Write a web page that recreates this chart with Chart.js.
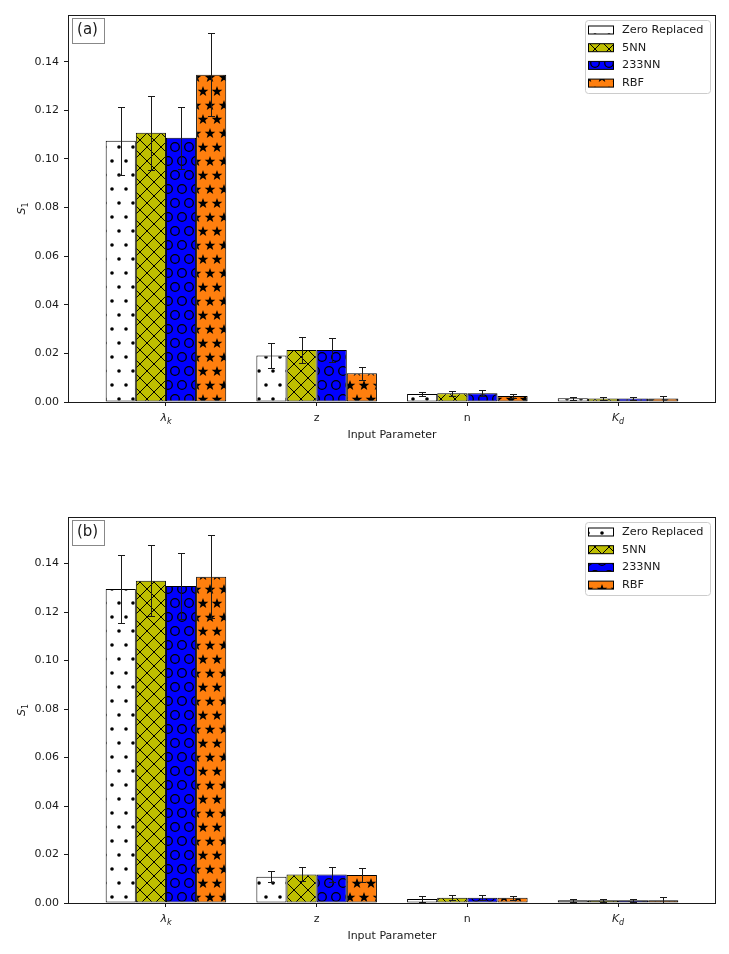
<!DOCTYPE html>
<html>
<head>
<meta charset="utf-8">
<script src="https://cdn.jsdelivr.net/npm/chart.js@4.4.1/dist/chart.umd.min.js"></script>
<style>
html, body { margin: 0; padding: 0; background: #fff; }
#wrap { position: relative; width: 729px; height: 954px; }
.panel { position: absolute; left: 0; width: 729px; height: 470px; }
</style>
</head>
<body>
<div id="wrap">
  <div class="panel" style="top:0"><canvas id="chartA" width="729" height="470"></canvas></div>
  <div class="panel" style="top:484px"><canvas id="chartB" width="729" height="470"></canvas></div>
</div>
<script>
// categories: [main symbol, subscript, italic]
const categories = [['λ', 'k', true], ['z', '', false], ['n', '', false], ['K', 'd', true]];
const seriesNames = ['Zero Replaced', '5NN', '233NN', 'RBF'];
const yTickValues = [0, 0.02, 0.04, 0.06, 0.08, 0.10, 0.12, 0.14];

// panel (a)
const zeroA = [0.1075, 0.0191, 0.0033, 0.0015];
const zeroAErr = [0.0140, 0.0053, 0.0010, 0.0006];
const nn5A = [0.1108, 0.0214, 0.0036, 0.0014];
const nn5AErr = [0.0152, 0.0055, 0.0011, 0.0005];
const nn233A = [0.1087, 0.0214, 0.0036, 0.0014];
const nn233AErr = [0.0128, 0.0048, 0.0012, 0.0006];
const rbfA = [0.1346, 0.0118, 0.0025, 0.0014];
const rbfAErr = [0.0170, 0.0027, 0.0007, 0.0012];

// panel (b)
const zeroB = [0.1295, 0.0108, 0.0016, 0.0011];
const zeroBErr = [0.0141, 0.0022, 0.0012, 0.0007];
const nn5B = [0.1329, 0.0118, 0.0022, 0.0011];
const nn5BErr = [0.0146, 0.0029, 0.0011, 0.0005];
const nn233B = [0.1307, 0.0118, 0.0022, 0.0011];
const nn233BErr = [0.0136, 0.0031, 0.0011, 0.0006];
const rbfB = [0.1346, 0.0115, 0.0022, 0.0011];
const rbfBErr = [0.0170, 0.0028, 0.0008, 0.0012];

const FONT = 'DejaVu Sans';
const INK = '#1a1a1a';

// hatch tiles
function starPath(c, cx, cy, ro, ri) {
    c.beginPath();
    for (let k = 0; k < 10; k++) {
        const r = k % 2 ? ri : ro;
        const a = -Math.PI / 2 + k * Math.PI / 5;
        const px = cx + r * Math.cos(a), py = cy + r * Math.sin(a);
        if (k === 0) c.moveTo(px, py); else c.lineTo(px, py);
    }
    c.closePath();
}

function makePattern(kind, bg) {
    const t = document.createElement('canvas');
    const w = 14, h = kind === 'x' ? 14 : 28;
    t.width = w; t.height = h;
    const c = t.getContext('2d');
    c.fillStyle = bg;
    c.fillRect(0, 0, w, h);
    c.strokeStyle = '#000';
    c.fillStyle = '#000';
    c.lineWidth = 1;
    const spots = [[7, 7], [0, 21], [14, 21]];
    if (kind === 'x') {
        for (let k = -1; k <= 1; k++) {
            c.beginPath();
            c.moveTo(-2, -2 + k * 14); c.lineTo(16, 16 + k * 14);
            c.moveTo(-2, 16 + k * 14); c.lineTo(16, -2 + k * 14);
            c.stroke();
        }
    } else if (kind === 'dot') {
        spots.forEach(p => { c.beginPath(); c.arc(p[0], p[1], 1.8, 0, Math.PI * 2); c.fill(); });
    } else if (kind === 'o') {
        c.lineWidth = 1.3;
        spots.forEach(p => { c.beginPath(); c.arc(p[0], p[1], 4.3, 0, Math.PI * 2); c.stroke(); });
    } else if (kind === 'star') {
        spots.forEach(p => { starPath(c, p[0], p[1] + 0.5, 5.6, 2.3); c.fill(); });
    }
    return document.createElement('canvas').getContext('2d').createPattern(t, 'repeat');
}

const patterns = [
    makePattern('dot', '#ffffff'),
    makePattern('x', '#bfbf00'),
    makePattern('o', '#0000ff'),
    makePattern('star', '#ff7f0e')
];

// draws error bars, frame, tick labels, titles, legend and panel tag
function makeDecor(errors, tag) {
    return {
        id: 'decor',
        afterDatasetsDraw(chart) {
            const ctx = chart.ctx;
            const area = chart.chartArea;
            const xs = chart.scales.x, ys = chart.scales.y;

            // error bars
            ctx.save();
            ctx.strokeStyle = INK;
            ctx.lineWidth = 1;
            chart.data.datasets.forEach((ds, i) => {
                chart.getDatasetMeta(i).data.forEach((bar, j) => {
                    const v = ds.data[j].y, e = errors[i][j];
                    const top = Math.round(ys.getPixelForValue(v + e)) + 0.5;
                    const bot = Math.round(ys.getPixelForValue(Math.max(v - e, 0))) + 0.5;
                    const bx = Math.round(bar.x) + 0.5;
                    ctx.beginPath();
                    ctx.moveTo(bx, top); ctx.lineTo(bx, bot);
                    ctx.moveTo(bx - 3.5, top); ctx.lineTo(bx + 3.5, top);
                    ctx.moveTo(bx - 3.5, bot); ctx.lineTo(bx + 3.5, bot);
                    ctx.stroke();
                });
            });

            // frame
            ctx.strokeStyle = INK;
            ctx.lineWidth = 1;
            ctx.strokeRect(Math.round(area.left) + 0.5, Math.round(area.top) + 0.5,
                Math.round(area.right - area.left) - 1, Math.round(area.bottom - area.top));

            // x tick labels
            ctx.fillStyle = INK;
            ctx.textBaseline = 'alphabetic';
            categories.forEach((cat, i) => {
                const px = xs.getPixelForValue(i);
                const base = area.bottom + 19;
                ctx.font = (cat[2] ? 'italic ' : '') + '11px "' + FONT + '"';
                const w1 = ctx.measureText(cat[0]).width;
                ctx.font = 'italic 8px "' + FONT + '"';
                const w2 = cat[1] ? ctx.measureText(cat[1]).width : 0;
                let sx = px - (w1 + w2) / 2;
                ctx.textAlign = 'left';
                ctx.font = (cat[2] ? 'italic ' : '') + '11px "' + FONT + '"';
                ctx.fillText(cat[0], sx, base);
                if (cat[1]) {
                    ctx.font = 'italic 8px "' + FONT + '"';
                    ctx.fillText(cat[1], sx + w1, base + 2.5);
                }
            });

            // x title
            ctx.font = '11px "' + FONT + '"';
            ctx.textAlign = 'center';
            ctx.textBaseline = 'middle';
            ctx.fillText('Input Parameter', (area.left + area.right) / 2, area.bottom + 33);

            // y title
            ctx.save();
            ctx.translate(21, (area.top + area.bottom) / 2);
            ctx.rotate(-Math.PI / 2);
            ctx.textBaseline = 'alphabetic';
            ctx.textAlign = 'left';
            ctx.font = 'italic 11px "' + FONT + '"';
            const sw = ctx.measureText('S').width;
            ctx.fillText('S', -(sw + 5) / 2, 4);
            ctx.font = '8px "' + FONT + '"';
            ctx.fillText('1', -(sw + 5) / 2 + sw, 6.5);
            ctx.restore();

            // panel tag
            const tx = area.left + 3.5, ty = area.top + 2.5;
            ctx.fillStyle = '#fff';
            ctx.fillRect(tx, ty, 32, 25);
            ctx.strokeStyle = '#888';
            ctx.strokeRect(Math.round(tx) + 0.5, Math.round(ty) + 0.5, 32, 25);
            ctx.fillStyle = INK;
            ctx.font = '15px "' + FONT + '"';
            ctx.textAlign = 'center';
            ctx.textBaseline = 'middle';
            ctx.fillText(tag, tx + 16, ty + 13);

            // legend
            const lx = area.right - 131, ly = area.top + 5;
            ctx.fillStyle = 'rgba(255,255,255,0.85)';
            ctx.strokeStyle = '#cccccc';
            ctx.beginPath();
            ctx.roundRect(lx + 0.5, ly + 0.5, 125, 73, 3);
            ctx.fill();
            ctx.stroke();
            seriesNames.forEach((name, i) => {
                const cy = ly + 10 + i * 17.7;
                ctx.fillStyle = patterns[i];
                ctx.fillRect(lx + 3.5, cy - 4, 25, 8);
                ctx.strokeStyle = '#000';
                ctx.strokeRect(lx + 3.5, cy - 4, 25, 8);
                ctx.fillStyle = INK;
                ctx.font = '11.3px "' + FONT + '"';
                ctx.textAlign = 'left';
                ctx.textBaseline = 'middle';
                ctx.fillText(name, lx + 37, cy);
            });
            ctx.restore();
        }
    };
}

function buildChart(id, series, errors, tag, padTop, xAxisH) {
    const datasets = series.map((vals, i) => ({
        label: seriesNames[i],
        data: vals.map((v, j) => ({ x: j, y: v })),
        backgroundColor: patterns[i],
        borderColor: '#000',
        borderWidth: 1,
        borderSkipped: false,
        categoryPercentage: 0.8,
        barPercentage: 1.0
    }));
    return new Chart(document.getElementById(id), {
        type: 'bar',
        data: { datasets: datasets },
        options: {
            responsive: false,
            animation: false,
            layout: { padding: { left: 0, right: 13, top: padTop, bottom: 0 } },
            plugins: { legend: { display: false }, tooltip: { enabled: false } },
            scales: {
                x: {
                    type: 'linear',
                    min: -0.65,
                    max: 3.65,
                    offset: false,
                    afterBuildTicks: s => { s.ticks = categories.map((c, i) => ({ value: i })); },
                    ticks: { display: false },
                    grid: { drawOnChartArea: false, drawTicks: true, tickLength: 4, color: INK, offset: false },
                    border: { display: false },
                    afterFit: s => { s.height = xAxisH; }
                },
                y: {
                    min: 0,
                    max: 0.1592,
                    afterBuildTicks: s => { s.ticks = yTickValues.map(v => ({ value: v })); },
                    ticks: {
                        callback: v => v.toFixed(2),
                        font: { family: FONT, size: 11 },
                        color: INK,
                        padding: 5
                    },
                    grid: { drawOnChartArea: false, drawTicks: true, tickLength: 4, color: INK },
                    border: { display: false },
                    afterFit: s => { s.width = 68; }
                }
            }
        },
        plugins: [makeDecor(errors, tag)]
    });
}

buildChart('chartA', [zeroA, nn5A, nn233A, rbfA],
    [zeroAErr, nn5AErr, nn233AErr, rbfAErr], '(a)', 15, 68);
buildChart('chartB', [zeroB, nn5B, nn233B, rbfB],
    [zeroBErr, nn5BErr, nn233BErr, rbfBErr], '(b)', 33, 51);
</script>
</body>
</html>
